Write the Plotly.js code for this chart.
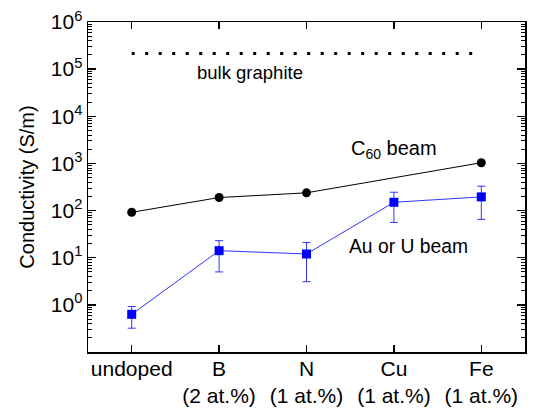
<!DOCTYPE html>
<html><head><meta charset="utf-8">
<script src="https://cdn.plot.ly/plotly-3.0.1.min.js"></script>
<style>html,body{margin:0;padding:0;background:#fff}#plot{width:540px;height:410px}</style>
</head><body><div id="plot"></div>
<script>
// Data
const categories = ['undoped', 'B', 'N', 'Cu', 'Fe'];
const tickLabels = ['undoped', 'B<br>(2 at.%)', 'N<br>(1 at.%)', 'Cu<br>(1 at.%)', 'Fe<br>(1 at.%)'];
const c60Cats = ['undoped', 'B', 'N', 'Fe'];
const c60Values = [92, 189, 238, 1035];
const auValues = [0.63, 14.1, 12, 150, 195];
const auErrPlus = [0.29, 8.9, 9, 95, 134];
const auErrMinus = [0.31, 9.1, 8.9, 94, 130];
const graphiteCats = ['undoped', 'Fe'];
const graphiteValue = 2.16e5;
const yTickVals = [1, 10, 100, 1e3, 1e4, 1e5, 1e6];
const yTickText = ['10<sup>0</sup>', '10<sup>1</sup>', '10<sup>2</sup>', '10<sup>3</sup>', '10<sup>4</sup>', '10<sup>5</sup>', '10<sup>6</sup>'];
const decades = [-1, 0, 1, 2, 3, 4, 5];
const minorMultipliers = [2, 3, 4, 5, 6, 7, 8, 9];
const minorTickVals = [];
decades.forEach(d => minorMultipliers.forEach(m => minorTickVals.push(m * Math.pow(10, d))));

const font = {family: 'Liberation Sans, Arial, sans-serif', color: '#000'};

const traces = [
  {x: graphiteCats, y: graphiteCats.map(() => graphiteValue), mode: 'lines', type: 'scatter',
   line: {color: '#000', width: 3, dash: '3px,10.5px'}, hoverinfo: 'skip'},
  {x: c60Cats, y: c60Values, mode: 'lines+markers', type: 'scatter',
   line: {color: '#000', width: 1}, marker: {symbol: 'circle', size: 9, color: '#000'}},
  {x: categories, y: auValues, mode: 'lines+markers', type: 'scatter',
   line: {color: '#3333ff', width: 1}, marker: {symbol: 'square', size: 9, color: '#0000ff'},
   error_y: {type: 'data', symmetric: false, array: auErrPlus, arrayminus: auErrMinus,
             color: '#3333ff', thickness: 1, width: 4}}
];

const layout = {
  width: 540, height: 410,
  margin: {l: 88, r: 15, t: 22, b: 58},
  showlegend: false,
  paper_bgcolor: '#fff', plot_bgcolor: '#fff',
  font: font,
  xaxis: {
    type: 'category', range: [-0.5, 4.5],
    categoryorder: 'array', categoryarray: categories,
    tickvals: categories, ticktext: tickLabels,
    ticks: 'inside', ticklen: 7, tickwidth: 1.5, tickcolor: '#000',
    showline: true, linecolor: '#000', linewidth: 1.5, mirror: 'ticks',
    showgrid: false, zeroline: false, ticklabelstandoff: -3,
    tickfont: {family: font.family, size: 21, color: '#000'}
  },
  yaxis: {
    type: 'log', range: [-1, 6],
    tickvals: yTickVals, ticktext: yTickText,
    ticks: 'inside', ticklen: 8, tickwidth: 1.5, tickcolor: '#000',
    minor: {tickmode: 'array', tickvals: minorTickVals, ticks: 'inside', ticklen: 4, tickwidth: 1, tickcolor: '#000', showgrid: false},
    showline: true, linecolor: '#000', linewidth: 1.5, mirror: 'ticks',
    showgrid: false, zeroline: false,
    tickfont: {family: font.family, size: 21, color: '#000'},
    title: {text: 'Conductivity (S/m)', font: {family: font.family, size: 20, color: '#000'}, standoff: 11}
  },
  annotations: [
    {x: 1.35, y: 4.936, xref: 'x', yref: 'y', text: 'bulk graphite', showarrow: false,
     xanchor: 'center', yanchor: 'middle', font: {family: font.family, size: 18.5, color: '#000'}},
    {x: 3.0, y: 3.30, xref: 'x', yref: 'y', text: 'C<sub>60</sub> beam', showarrow: false,
     xanchor: 'center', yanchor: 'middle', font: {family: font.family, size: 20, color: '#000'}},
    {x: 3.17, y: 1.234, xref: 'x', yref: 'y', text: 'Au or U beam', showarrow: false,
     xanchor: 'center', yanchor: 'middle', font: {family: font.family, size: 19.3, color: '#000'}}
  ]
};

Plotly.newPlot('plot', traces, layout, {displayModeBar: false, staticPlot: true});
</script></body></html>
